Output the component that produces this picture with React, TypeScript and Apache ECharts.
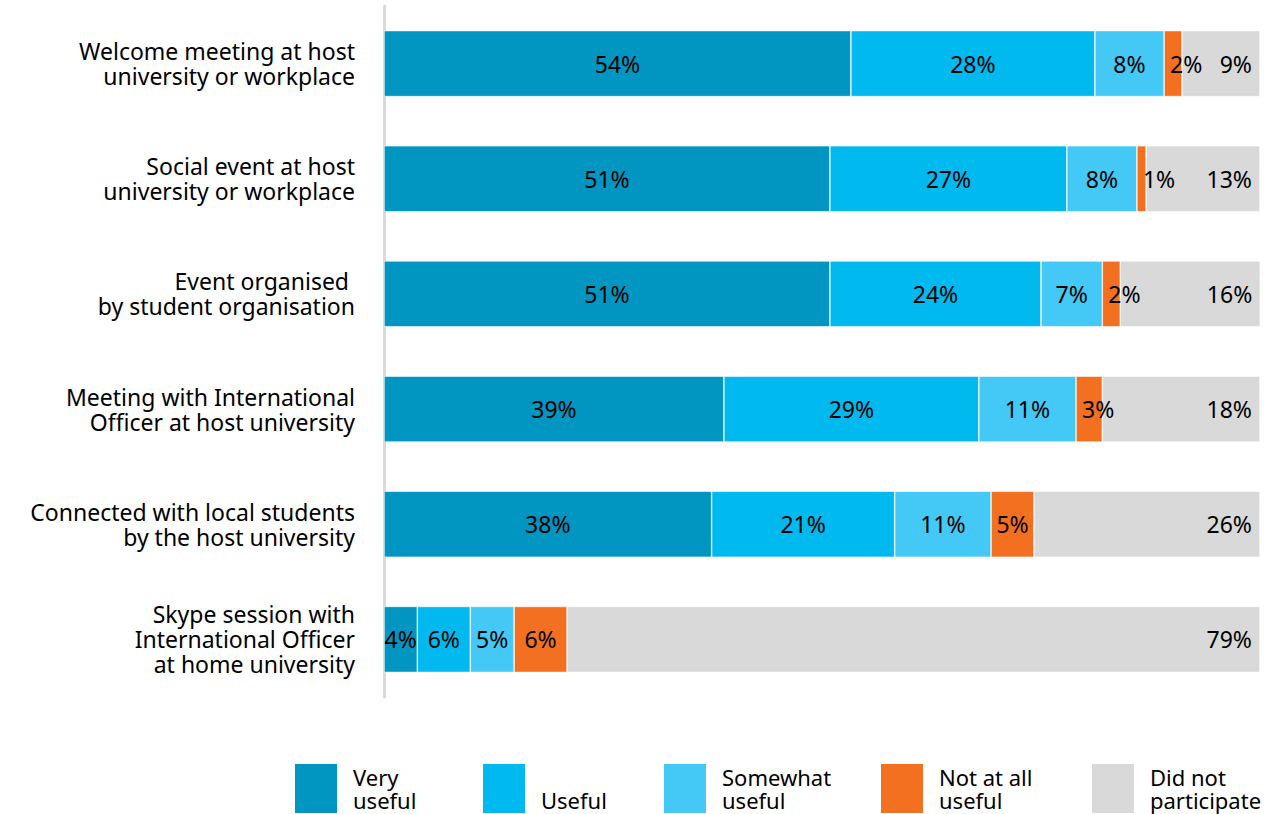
import React, { useEffect, useRef } from "react";
import * as echarts from "echarts";

const categories = [
  "Welcome meeting at host\nuniversity or workplace",
  "Social event at host\nuniversity or workplace",
  "Event organised \nby student organisation",
  "Meeting with International\nOfficer at host university",
  "Connected with local students\nby the host university",
  "Skype session with\nInternational Officer\nat home university",
];

const seriesNames = ["Very\nuseful", "\nUseful", "Somewhat\nuseful", "Not at all\nuseful", "Did not\nparticipate"];
const colors = ["#0096C1", "#00B9EF", "#44C8F5", "#F37021", "#D9D9D9"];

// Segment sizes
const veryUseful = [53.3, 50.9, 50.9, 38.8, 37.4, 3.8];
const useful = [27.85, 27.05, 24.1, 29.1, 20.9, 6.05];
const somewhatUseful = [7.9, 8.0, 7.0, 11.1, 11.0, 5.0];
const notAtAllUseful = [2.05, 1.05, 2.05, 3.0, 4.9, 6.05];
const didNotParticipate = [8.9, 13.0, 16.0, 18.0, 25.8, 79.1];

// Printed labels
const veryUsefulLabels = ["54%", "51%", "51%", "39%", "38%", "4%"];
const usefulLabels = ["28%", "27%", "24%", "29%", "21%", "6%"];
const somewhatUsefulLabels = ["8%", "8%", "7%", "11%", "11%", "5%"];
const notAtAllUsefulLabels = ["2%", "1%", "2%", "3%", "5%", "6%"];
const didNotParticipateLabels = ["9%", "13%", "16%", "18%", "26%", "79%"];

const values = [veryUseful, useful, somewhatUseful, notAtAllUseful, didNotParticipate];
const labels = [veryUsefulLabels, usefulLabels, somewhatUsefulLabels, notAtAllUsefulLabels, didNotParticipateLabels];

const legendLefts = [293, 481, 662, 879, 1090];

const FONT = "Noto Sans";

export default function App() {
  const ref = useRef<HTMLDivElement>(null);
  useEffect(() => {
    if (!ref.current) return;
    const chart = echarts.init(ref.current, undefined, { renderer: "svg" });
    const series = values.map((vals, si) => ({
      name: seriesNames[si],
      type: "bar",
      stack: "total",
      barWidth: 66,
      itemStyle: { color: colors[si], borderColor: "#ffffff", borderWidth: 0.6 },
      data: vals.map((v) => {
        const item: any = { value: v };
        if (si === 3 && v < 4) {
          item.label = { position: "insideLeft", distance: 6 };
        }
        return item;
      }),
      label: {
        show: true,
        position: si === 4 ? "insideRight" : "inside",
        distance: 8,
        color: "#000",
        fontFamily: FONT,
        fontSize: 23,
        formatter: (p: any) => labels[si][p.dataIndex],
      },
    }));
    const legends = seriesNames.map((n, i) => ({
      left: legendLefts[i],
      top: 762,
      padding: 0,
      itemWidth: 44,
      itemHeight: 51,
      icon: "rect",
      selectedMode: false,
      textStyle: { color: "#000", fontSize: 22, lineHeight: 23, fontFamily: FONT, padding: [0, 0, 0, 10] },
      data: [n],
    }));
    chart.setOption({
      animation: false,
      textStyle: { fontFamily: FONT },
      grid: { left: 384, right: 23, top: 6, bottom: 117, containLabel: false },
      xAxis: { type: "value", min: 0, max: 100, show: false },
      yAxis: {
        type: "category",
        inverse: true,
        data: categories,
        offset: 2,
        axisLine: { show: true, lineStyle: { color: "#D9D9D9", width: 3 } },
        axisTick: { show: false },
        axisLabel: { color: "#000", fontSize: 23, lineHeight: 25, margin: 27, fontFamily: FONT, align: "right" },
      },
      legend: legends,
      series,
    });
    return () => chart.dispose();
  }, []);
  return <div ref={ref} style={{ width: 1283, height: 814, position: "absolute", left: 0, top: 0 }} />;
}
